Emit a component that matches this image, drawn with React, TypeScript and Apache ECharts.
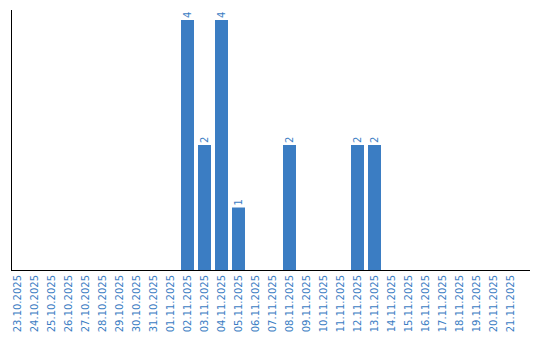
import React, { useEffect, useRef } from "react";
import * as echarts from "echarts";

const categories = [
  "23.10.2025", "24.10.2025", "25.10.2025", "26.10.2025", "27.10.2025",
  "28.10.2025", "29.10.2025", "30.10.2025", "31.10.2025", "01.11.2025",
  "02.11.2025", "03.11.2025", "04.11.2025", "05.11.2025", "06.11.2025",
  "07.11.2025", "08.11.2025", "09.11.2025", "10.11.2025", "11.11.2025",
  "12.11.2025", "13.11.2025", "14.11.2025", "15.11.2025", "16.11.2025",
  "17.11.2025", "18.11.2025", "19.11.2025", "20.11.2025", "21.11.2025",
];
const values = [
  0, 0, 0, 0, 0, 0, 0, 0, 0, 0,
  4, 2, 4, 1, 0, 0, 2, 0, 0, 0,
  2, 2, 0, 0, 0, 0, 0, 0, 0, 0,
];

const BLUE = "#3b7dc3";

export default function App() {
  const ref = useRef<HTMLDivElement>(null);
  useEffect(() => {
    if (!ref.current) return;
    const chart = echarts.init(ref.current, null, { renderer: "svg" });
    chart.setOption({
      animation: false,
      grid: { left: 9, top: 20, width: 510, height: 250, containLabel: false },
      xAxis: {
        type: "category",
        data: categories,
        axisLine: { show: false },
        axisTick: { show: false },
        axisLabel: {
          interval: 0,
          rotate: 90,
          margin: 5,
          color: BLUE,
          fontFamily: "DejaVu Sans",
          fontSize: 10,
        },
      },
      yAxis: {
        type: "value",
        min: 0,
        max: 4,
        axisLine: { show: false },
        axisTick: { show: false },
        axisLabel: { show: false },
        splitLine: { show: false },
      },
      series: [
        {
          type: "bar",
          data: values,
          barWidth: 13,
          itemStyle: { color: BLUE },
          label: {
            show: true,
            position: "top",
            rotate: 90,
            align: "left",
            verticalAlign: "middle",
            distance: 2,
            color: BLUE,
            fontFamily: "DejaVu Sans",
            fontSize: 10,
            formatter: (p: any) => (p.value ? String(p.value) : ""),
          },
        },
      ],
      graphic: [
        {
          type: "line",
          shape: { x1: 11.5, y1: 10, x2: 11.5, y2: 270 },
          style: { stroke: "#000", lineWidth: 1 },
        },
        {
          type: "line",
          shape: { x1: 11, y1: 270.5, x2: 530, y2: 270.5 },
          style: { stroke: "#000", lineWidth: 1 },
        },
      ],
    });
    return () => chart.dispose();
  }, []);
  return <div ref={ref} style={{ width: 540, height: 340, position: "absolute", left: 0, top: 0 }} />;
}
